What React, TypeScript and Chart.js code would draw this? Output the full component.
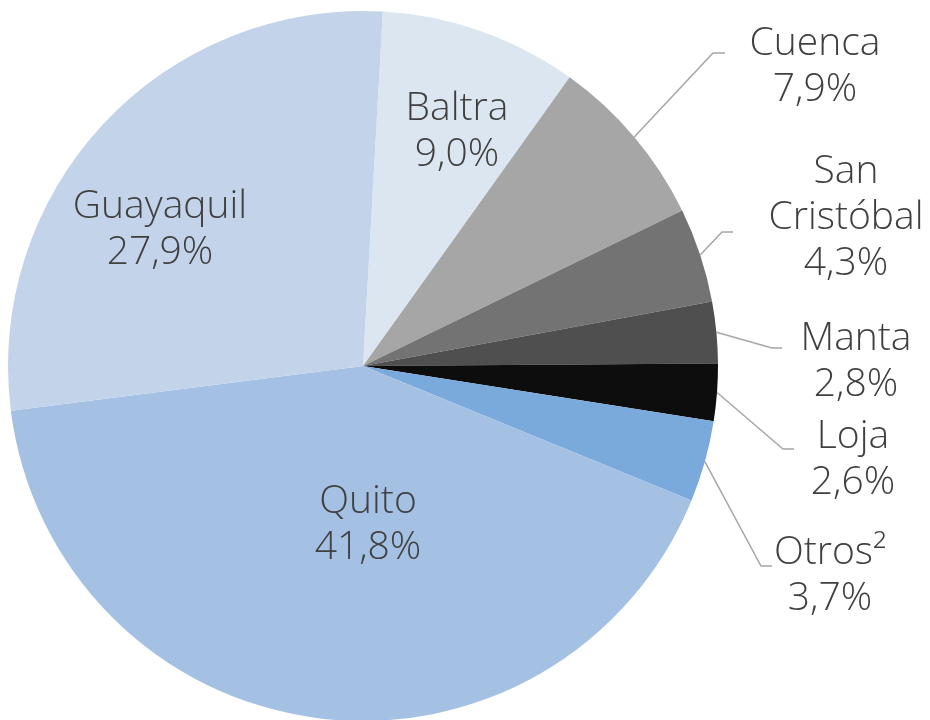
import React, { useEffect, useRef } from "react";
import { Chart, registerables } from "chart.js";

Chart.register(...registerables);

// ---- data (clockwise from the top) ----
const cities = ["Baltra", "Cuenca", "San Cristóbal", "Manta", "Loja", "Otros²", "Quito", "Guayaquil"];
const shares = [9.0, 7.9, 4.3, 2.8, 2.6, 3.7, 41.8, 27.9];
const labelLines = [["Baltra"], ["Cuenca"], ["San", "Cristóbal"], ["Manta"], ["Loja"], ["Otros²"], ["Quito"], ["Guayaquil"]];

// ---- styles ----
const sliceColors = ["#dbe6f1", "#a6a6a6", "#737373", "#4f4f4f", "#0d0d0d", "#7aa9db", "#a4c1e4", "#c3d4ea"];
const FONT_SIZE = 39;
const LINE_H = 46;
const TEXT_COLOR = "#404040";
const LEADER_COLOR = "#a6a6a6";

// label layout relative to the pie centre (block centre, optional leader elbow + tail)
type LabelPos = { c: [number, number]; elbow?: [number, number]; tail?: number };
const labelLayout: LabelPos[] = [
  { c: [94, -236.5] },
  { c: [452, -302], elbow: [350, -313], tail: 12 },
  { c: [483, -151], elbow: [359, -134], tail: 11 },
  { c: [493, -7], elbow: [409, -18], tail: 10 },
  { c: [490, 91.5], elbow: [420, 83], tail: 11 },
  { c: [467, 207.5], elbow: [398, 200], tail: 11 },
  { c: [5, 156] },
  { c: [-203, -139] },
];

const fmt = (v: number) => v.toFixed(1).replace(".", ",") + "%";

const labelsPlugin = {
  id: "pieLabels",
  afterDatasetsDraw(chart: any) {
    const ctx = chart.ctx as CanvasRenderingContext2D;
    const meta = chart.getDatasetMeta(0);
    meta.data.forEach((arc: any, i: number) => {
      const { x, y, startAngle, endAngle, outerRadius } = arc.getProps(
        ["x", "y", "startAngle", "endAngle", "outerRadius"],
        true
      );
      const mid = (startAngle + endAngle) / 2;
      const L = labelLayout[i];
      ctx.save();
      if (L.elbow) {
        const sx = x + outerRadius * Math.cos(mid);
        const sy = y + outerRadius * Math.sin(mid);
        const ex = x + L.elbow[0];
        const ey = y + L.elbow[1];
        ctx.strokeStyle = LEADER_COLOR;
        ctx.lineWidth = 1.5;
        ctx.beginPath();
        ctx.moveTo(sx, sy);
        ctx.lineTo(ex, ey);
        ctx.lineTo(ex + (L.tail || 0), ey);
        ctx.stroke();
      }
      const lines = [...labelLines[i], fmt(shares[i])];
      ctx.font = `300 ${FONT_SIZE}px "Open Sans", sans-serif`;
      ctx.fillStyle = TEXT_COLOR;
      ctx.textAlign = "center";
      ctx.textBaseline = "alphabetic";
      const cx = x + L.c[0];
      const cy = y + L.c[1];
      const n = lines.length;
      lines.forEach((t, k) => {
        const capMid = cy + (k - (n - 1) / 2) * LINE_H;
        ctx.fillText(t, cx, capMid + 0.357 * FONT_SIZE);
      });
      ctx.restore();
    });
  },
};

export default function App() {
  const ref = useRef<HTMLCanvasElement | null>(null);
  useEffect(() => {
    if (!ref.current) return;
    const chart = new Chart(ref.current, {
      type: "pie",
      data: {
        labels: cities,
        datasets: [
          {
            data: shares,
            backgroundColor: sliceColors,
            borderWidth: 0,
            radius: 355,
          } as any,
        ],
      },
      options: {
        responsive: false,
        animation: false,
        devicePixelRatio: 1,
        rotation: 3.2,
        layout: { padding: { left: 0, top: 12, right: 204, bottom: 0 } },
        plugins: {
          legend: { display: false },
          tooltip: { enabled: false },
        },
      } as any,
      plugins: [labelsPlugin],
    });
    return () => chart.destroy();
  }, []);
  return (
    <div style={{ position: "absolute", left: 0, top: 0, width: 930, height: 720, background: "#fff" }}>
      <canvas ref={ref} width={930} height={720} style={{ display: "block" }} />
    </div>
  );
}
